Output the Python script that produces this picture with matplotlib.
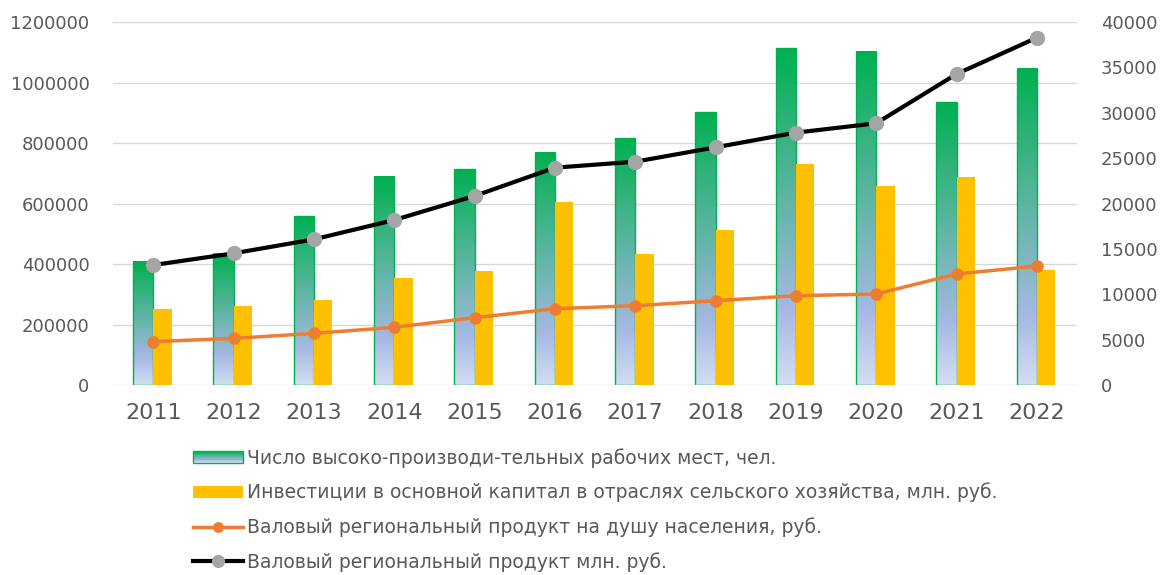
import numpy as np
import matplotlib
matplotlib.use('Agg')
import matplotlib.pyplot as plt
from matplotlib.patches import Rectangle
from matplotlib.legend_handler import HandlerBase
from matplotlib.colors import LinearSegmentedColormap
from matplotlib.ticker import FuncFormatter

plt.rcParams['font.family'] = ['DejaVu Sans']

years = ['2011', '2012', '2013', '2014', '2015', '2016',
         '2017', '2018', '2019', '2020', '2021', '2022']
# left axis
jobs = [407000, 434000, 558000, 688000, 714000, 767000,
        816000, 902000, 1114000, 1101000, 935000, 1045000]
invest = [250000, 260000, 281000, 355000, 376000, 606000,
          433000, 512000, 731000, 658000, 689000, 380000]
# right axis
grp_per_capita = [4780, 5140, 5690, 6360, 7420, 8410,
                  8740, 9290, 9840, 10030, 12230, 13110]
grp_total = [13220, 14510, 16050, 18180, 20830, 23950,
             24610, 26190, 27810, 28840, 34270, 38270]

labels = ['Число высоко-производи-тельных рабочих мест, чел.',
          'Инвестиции в основной капитал в отраслях сельского хозяйства, млн. руб.',
          'Валовый региональный продукт на душу населения, руб.',
          'Валовый региональный продукт млн. руб.']

GREEN = '#00B050'
YELLOW = '#FFC000'
ORANGE = '#ED7D31'
TXT = '#595959'
GRID = '#D9D9D9'

grad = LinearSegmentedColormap.from_list(
    'jobs', [(0, GREEN), (0.78, '#A6B9E3'), (1, '#D2DEF2')])


class GradProxy:
    pass


class GradientHandler(HandlerBase):
    # legend swatch with the same green -> blue fill as the bars
    def create_artists(self, legend, orig_handle, xdescent, ydescent,
                       width, height, fontsize, trans):
        n = 14
        arts = []
        for i in range(n):
            y0 = -ydescent + height * (1 - (i + 1) / n)
            arts.append(Rectangle((-xdescent, y0), width, height / n,
                                  facecolor=grad(i / (n - 1)), edgecolor='none',
                                  transform=trans))
        arts.append(Rectangle((-xdescent, -ydescent), width, height,
                              facecolor='none', edgecolor=GREEN, lw=1,
                              transform=trans))
        return arts


fig = plt.figure(figsize=(11.69, 5.75), dpi=100)
ax = fig.add_axes([0.0967, 0.3304, 0.8246, 0.6313])
x = np.arange(len(years))

jb = ax.bar(x - 0.125, jobs, 0.25, facecolor='none', edgecolor=GREEN,
            lw=1, zorder=3)
col = np.linspace(0, 1, 256).reshape(-1, 1)
for b in jb:
    ax.imshow(col, cmap=grad, origin='upper', aspect='auto', zorder=2,
              extent=[b.get_x(), b.get_x() + b.get_width(), 0, b.get_height()])
yb = ax.bar(x + 0.115, invest, 0.23, color=YELLOW, zorder=3)

ax.set_xlim(-0.5, 11.5)
ax.set_ylim(0, 1200000)
ax.set_yticks(range(0, 1200001, 200000))
ax.yaxis.set_major_formatter(FuncFormatter(lambda v, p: f'{int(v)}'))
ax.set_xticks(x)
ax.set_xticklabels(years)
ax.grid(axis='y', color=GRID, lw=1)
ax.set_axisbelow(True)
for s in ax.spines.values():
    s.set_visible(False)
ax.tick_params(axis='y', length=0, pad=17, labelsize=13, labelcolor=TXT)
ax.tick_params(axis='x', length=0, pad=13, labelsize=16, labelcolor=TXT)

ax2 = ax.twinx()
ax2.set_ylim(0, 40000)
ax2.set_yticks(range(0, 40001, 5000))
ax2.yaxis.set_major_formatter(FuncFormatter(lambda v, p: f'{int(v)}'))
for s in ax2.spines.values():
    s.set_visible(False)
ax2.tick_params(axis='y', length=0, pad=17, labelsize=13, labelcolor=TXT)

l_orange, = ax2.plot(x, grp_per_capita, color=ORANGE, lw=2.5, marker='o',
                     ms=8, mfc=ORANGE, mec=ORANGE, zorder=4)
l_black, = ax2.plot(x, grp_total, color='black', lw=3, marker='o',
                    ms=10, mfc='#A5A5A5', mec='#A5A5A5', zorder=5)

fig.legend([GradProxy(), yb, l_orange, l_black], labels,
           handler_map={GradProxy: GradientHandler()},
           loc='upper left', bbox_to_anchor=(193 / 1169, 1 - 448 / 575),
           frameon=False, fontsize=13.5, labelcolor=TXT, markerscale=0.85,
           handlelength=2.67, handleheight=0.6, handletextpad=0.2,
           labelspacing=0.8, borderpad=0, borderaxespad=0)

fig.savefig('out.png', dpi=100)
